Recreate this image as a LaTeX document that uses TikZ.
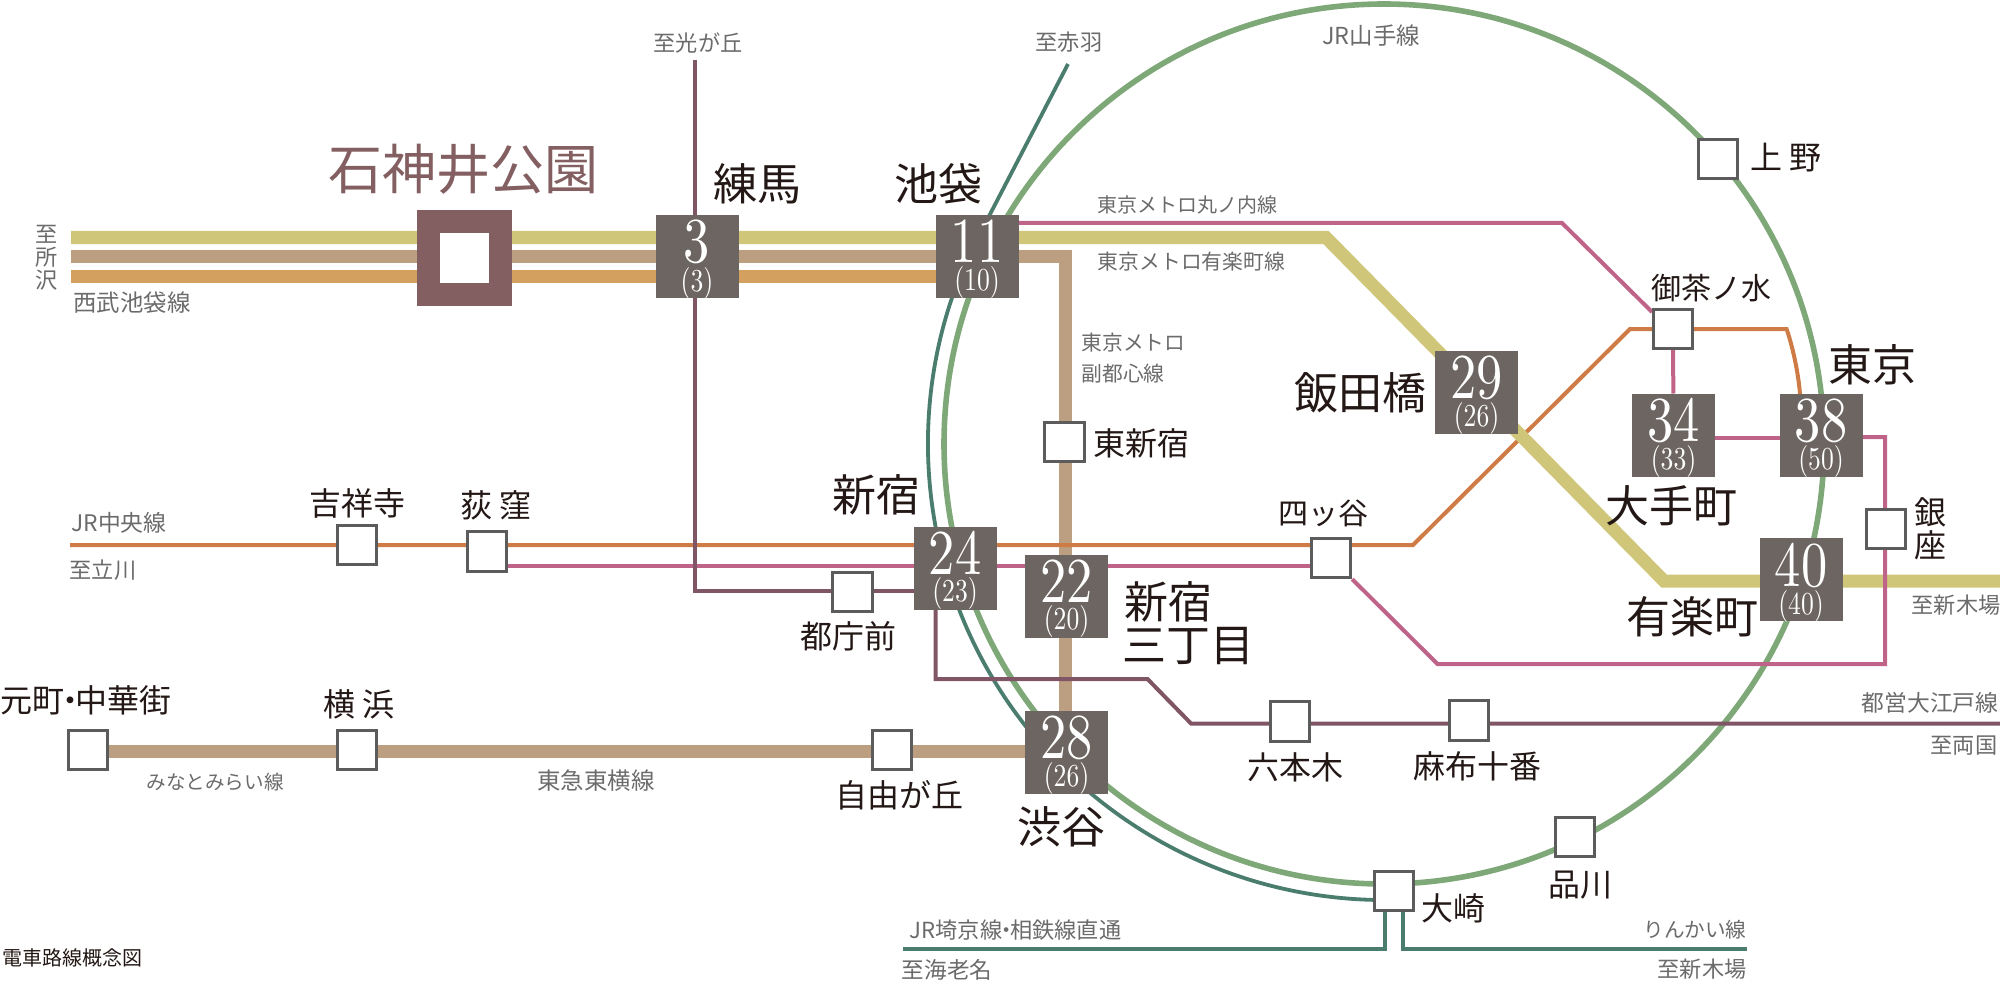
\documentclass[tikz,border=0pt]{standalone}
\usepackage{fontspec}
\newfontfamily\cjk{Noto Sans CJK JP}
\newfontfamily\numf{lmroman10-regular.otf}
\usetikzlibrary{calc}
\definecolor{cYel}{HTML}{CFC679}
\definecolor{cBrn}{HTML}{BB9F80}
\definecolor{cOrg}{HTML}{D3A060}
\definecolor{cPnk}{HTML}{BF6488}
\definecolor{cChu}{HTML}{CF7B45}
\definecolor{cPur}{HTML}{805565}
\definecolor{cJR}{HTML}{7FA878}
\definecolor{cSai}{HTML}{4B7D6E}
\definecolor{cBox}{HTML}{6C6561}
\definecolor{cIshi}{HTML}{845F62}
\definecolor{cInk}{HTML}{231815}
\definecolor{cGry}{HTML}{6B6B6B}
\definecolor{cEdge}{HTML}{5C5C5C}
\newcommand{\stnum}[2]{\vbox to 41.5pt{\offinterlineskip
  \hbox to 41.5pt{\hss\rule{0pt}{24pt}\scalebox{.82}[1]{\numf\fontsize{32}{32}\selectfont #1}\hss}
  \hbox to 41.5pt{\hss\rule{0pt}{13.5pt}\smash{\scalebox{.8}[1]{\numf\fontsize{16}{16}\selectfont #2}}\hss}
  \vss}}
\newcommand{\nakaguro}{\kern-.32em・\kern-.32em}
\pgfdeclarelayer{lines}
\pgfsetlayers{lines,main}
\tikzset{
  bigbox/.style={fill=cBox,text=white,minimum size=41.5pt,inner sep=0pt,outer sep=0pt},
  smallbox/.style={draw=cEdge,line width=1.5pt,fill=white,minimum size=19.7pt,inner sep=0pt},
  label grey/.style={text=cGry,inner sep=0pt,font=\cjk\fontsize{11.1}{11.5}\selectfont},
  name big/.style={text=cInk,inner sep=0pt,font=\cjk\fontsize{22}{24}\selectfont},
  name mid/.style={text=cInk,inner sep=0pt,font=\cjk\fontsize{16}{18}\selectfont},
  thick line/.style={line width=6.5pt,line join=miter},
  thin line/.style={line width=2pt,line join=miter},
}
\begin{document}
\begin{tikzpicture}[x=0.5pt,y=-0.5pt]
\useasboundingbox (0,0) rectangle (2000,984);
% stations
\node[draw=cIshi,line width=11.5pt,fill=white,minimum size=36pt,inner sep=0pt] (ishi) at (464,258) {};
\node[bigbox] (b3)  at (697,256.5) {\stnum{3}{(3)}};
\node[bigbox] (b11) at (977,256.5) {\stnum{11}{(10)}};
\node[bigbox] (b24) at (955,568) {\stnum{24}{(23)}};
\node[bigbox] (b22) at (1066.5,596) {\stnum{22}{(20)}};
\node[bigbox] (b28) at (1066.5,752) {\stnum{28}{(26)}};
\node[bigbox] (b29) at (1476.5,392) {\stnum{29}{(26)}};
\node[bigbox] (b34) at (1673.5,435) {\stnum{34}{(33)}};
\node[bigbox] (b38) at (1821,435) {\stnum{38}{(50)}};
\node[bigbox] (b40) at (1801,579.5) {\stnum{40}{(40)}};
\node[smallbox] (higashi) at (1064.5,442) {};
\node[smallbox] (ocha) at (1673,329) {};
\node[smallbox] (ginza) at (1886,529) {};
\node[smallbox] (yotsuya) at (1331,558) {};
\node[smallbox] (tocho) at (852.5,592) {};
\node[smallbox] (jiyu) at (892,750) {};
\node[smallbox] (roppongi) at (1290,721.5) {};
\node[smallbox] (azabu) at (1469,720.5) {};
\node[smallbox] (kichi) at (357,545) {};
\node[smallbox] (ogi) at (487,551.5) {};
\node[smallbox] (ueno) at (1718,159) {};
\node[smallbox] (shina) at (1575,837) {};
\node[smallbox] (moto) at (88,750) {};
\node[smallbox] (yoko) at (357,750) {};
\node[smallbox] (osaki) at (1394,891) {};
% free line ends and bends
\coordinate (y0) at (71,237.5); \coordinate (y1) at (1326,237.5); \coordinate (y2) at (1664,581); \coordinate (y3) at (2000,581);
\coordinate (f0) at (71,256); \coordinate (f1) at (1065.5,256);
\coordinate (s0) at (71,276.3);
\coordinate (t0) at (0,751.5);
\coordinate (m0) at (0,223); \coordinate (mA) at (1562,223); \coordinate (mB) at (1652,312);
\coordinate (mC) at (0,438); \coordinate (mE) at (1885,437); \coordinate (mF) at (1885,664); \coordinate (mG) at (1437.5,664); \coordinate (mH) at (0,566);
\coordinate (c0) at (70,545); \coordinate (c1) at (1413,545); \coordinate (c2) at (1630,329); \coordinate (c3) at (1786.6,329); \coordinate (c4) at (1800,394);
\coordinate (o0) at (695,60); \coordinate (o1) at (695,591); \coordinate (o2) at (935.5,600); \coordinate (o3) at (935.5,679); \coordinate (o4) at (1147.5,679); \coordinate (o5) at (1191,723.5); \coordinate (o6) at (2000,723.5);
\coordinate (aka) at (1068,64); \coordinate (sa1) at (989.1,216);
\coordinate (k1) at (1384.8,949); \coordinate (k0) at (902.6,949);
\coordinate (r1) at (1403,949); \coordinate (r0) at (1747,949);
\begin{pgfonlayer}{lines}
\draw[cJR,line width=2.8pt] (1384,444) circle[radius=440];
\draw[cSai,line width=1.9pt] (aka) -- (sa1) arc[start angle=210,end angle=91,radius=456];
\draw[cSai,line width=1.9pt] (k1 |- osaki.south) -- (k1) -- (k0);
\draw[cSai,line width=1.9pt] (r1 |- osaki.south) -- (r1) -- (r0);
\draw[cBrn,thick line] (f0) -- (f1) -- (b28.north -| f1);
\draw[cBrn,thick line] (moto.east |- t0) -- (b28.west |- t0);
\draw[cOrg,thick line] (s0) -- (b11.west |- s0);
\draw[cChu,thin line] (c0) -- (c1) -- (c2) -- (c3) .. controls (1792,345) and (1798,370) .. (c4);
\draw[cYel,thick line] (y0) -- (y1) -- (y2) -- (y3);
\draw[cPnk,thin line] (b11.east |- m0) -- (mA) -- (mB);
\draw[cPnk,thin line] (ocha) -- (b34);
\draw[cPnk,thin line] (b34.east |- mC) -- (b38.west |- mC);
\draw[cPnk,thin line] (b38.east |- mE) -- (mE) -- (mF) -- (mG) -- (yotsuya.south east);
\draw[cPnk,thin line] (yotsuya.west |- mH) -- (ogi.east |- mH);
\draw[cPur,thin line] (o0) -- (o1) -- (tocho.west |- o1);
\draw[cPur,thin line] (tocho.east |- o1) -- (b24.west |- o1);
\draw[cPur,thin line] (o2) -- (o3) -- (o4) -- (o5) -- (o6);
\end{pgfonlayer}
% large names
\node[text=cIshi,inner sep=0pt,font=\cjk\fontsize{27}{29}\selectfont] (tIshi) at (463,169) {石神井公園};
\node[name big] (tNeri) at (757,184) {練馬};
\node[name big] (tIke) at (938,184) {池袋};
\node[name big] (tShin) at (876,495) {新宿};
\node[name big,anchor=west] (tS3a) at (1124,602) {新宿};
\node[name big,anchor=west] (tS3b) at (1122,646) {三丁目};
\node[name big] (tShibu) at (1061,827) {渋谷};
\node[name big] (tIida) at (1360,393) {飯田橋};
\node[name big] (tTokyo) at (1872,365) {東京};
\node[name big] (tOte) at (1671,506) {大手町};
\node[name big] (tYura) at (1692,617) {有楽町};
% medium names
\node[name mid] (tKichi) at (357,503) {吉祥寺};
\node[name mid] (tOgi) at (496,505) {荻 窪};
\node[name mid] (tTocho) at (848,636) {都庁前};
\node[name mid] (tJiyu) at (899,795) {自由が丘};
\node[name mid] (tRop) at (1295,767) {六本木};
\node[name mid] (tAza) at (1477,766) {麻布十番};
\node[name mid,font=\cjk\fontsize{15}{17}\selectfont] (tYot) at (1323,513) {四ッ谷};
\node[name mid] (tHig) at (1141,443) {東新宿};
\node[name mid] (tUeno) at (1786,158) {上 野};
\node[name mid,font=\cjk\fontsize{15}{17}\selectfont] (tOcha) at (1711,288) {御茶ノ水};
\node[name mid] (tGin) at (1930,512) {銀};
\node[name mid] (tZa) at (1930,545) {座};
\node[name mid] (tShina) at (1580,885) {品川};
\node[name mid] (tOsaki) at (1453,908) {大崎};
\node[name mid] (tYoko) at (359,704) {横 浜};
\node[name mid] (tMoto) at (86,700) {元町\nakaguro 中華街};
% line labels
\node[label grey] (l1) at (698,43) {至光が丘};
\node[label grey] (l2) at (1069,42) {至赤羽};
\node[label grey,font=\cjk\fontsize{11.7}{12}\selectfont] (l3) at (1371,36) {JR山手線};
\node[label grey,align=center] (l4) at (47,258) {至\\所\\沢};
\node[label grey,font=\cjk\fontsize{11.7}{12}\selectfont] (l5) at (132,303) {西武池袋線};
\node[label grey,font=\cjk\fontsize{10}{12}\selectfont] (l6) at (1187,205) {東京メトロ丸ノ内線};
\node[label grey,font=\cjk\fontsize{10.4}{12}\selectfont] (l7) at (1191.5,262) {東京メトロ有楽町線};
\node[label grey,anchor=west,font=\cjk\fontsize{10.4}{12}\selectfont] (l8) at (1081,343) {東京メトロ};
\node[label grey,anchor=west,font=\cjk\fontsize{10.4}{12}\selectfont] (l9) at (1081,374) {副都心線};
\node[label grey,font=\cjk\fontsize{11.4}{12}\selectfont] (l10) at (119,523) {JR中央線};
\node[label grey] (l11) at (103,570) {至立川};
\node[label grey] (l12) at (1956,605) {至新木場};
\node[label grey,font=\cjk\fontsize{11.4}{12}\selectfont] (l13) at (1930,703) {都営大江戸線};
\node[label grey] (l14) at (1964,746) {至両国};
\node[label grey,font=\cjk\fontsize{9.8}{12}\selectfont] (l15) at (215,782) {みなとみらい線};
\node[label grey,font=\cjk\fontsize{11.7}{12}\selectfont] (l16) at (596,781) {東急東横線};
\node[label grey] (l17) at (1015.5,930) {JR埼京線\nakaguro 相鉄線直通};
\node[label grey,font=\cjk\fontsize{11.3}{12}\selectfont] (l18) at (947,970) {至海老名};
\node[label grey,font=\cjk\fontsize{10.3}{12}\selectfont] (l19) at (1695,930) {りんかい線};
\node[label grey,font=\cjk\fontsize{11.1}{12}\selectfont] (l20) at (1702,969) {至新木場};
\node[inner sep=0pt,text=cInk,font=\cjk\fontsize{10}{12}\selectfont] (l21) at (73,958) {電車路線概念図};
\end{tikzpicture}
\end{document}
